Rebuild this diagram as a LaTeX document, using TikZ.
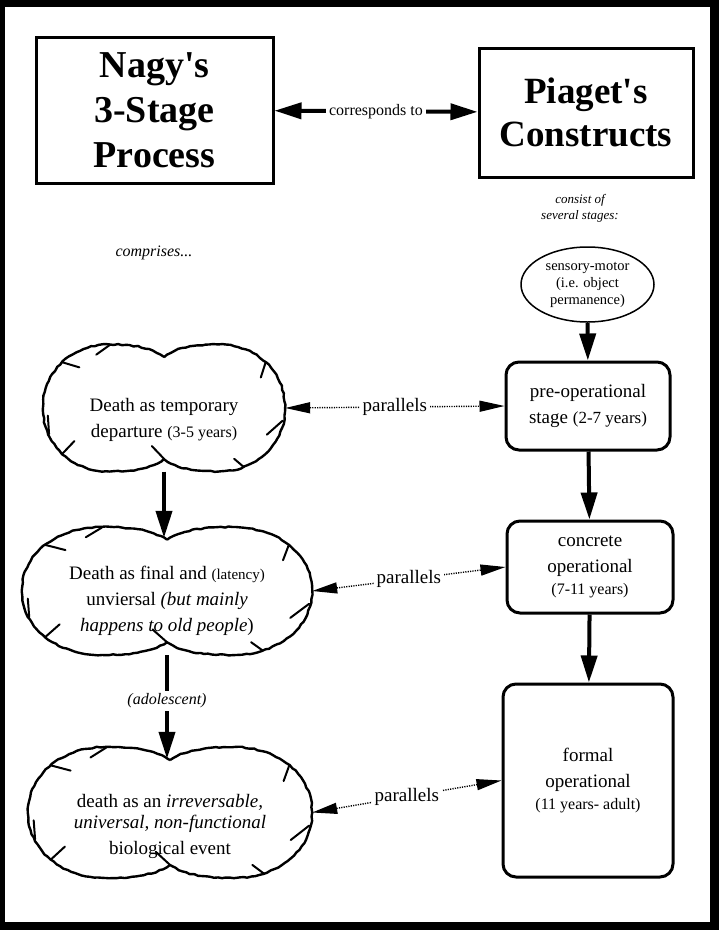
\documentclass[tikz,border=0pt]{standalone}
\usepackage{fontspec}
\setmainfont{Liberation Serif}
\usetikzlibrary{shapes.geometric, arrows.meta, decorations.pathmorphing}

% outline of a cloud round node #1, half width #2, half height #3
\newcommand\drawcloud[3]{%
  \draw[cloud line, shift={(#1.center)}]
    (0,{-0.8*#3}) .. controls ({0.1*#2},{-0.95*#3}) and ({0.25*#2},{-#3}) .. ({0.45*#2},{-#3})
    .. controls ({0.75*#2},{-#3}) and ({#2},{-0.6*#3}) .. ({#2},0)
    .. controls ({#2},{0.6*#3}) and ({0.75*#2},{#3}) .. ({0.45*#2},{#3})
    .. controls ({0.25*#2},{#3}) and ({0.1*#2},{0.95*#3}) .. (0,{0.8*#3})
    .. controls ({-0.1*#2},{0.95*#3}) and ({-0.25*#2},{#3}) .. ({-0.45*#2},{#3})
    .. controls ({-0.75*#2},{#3}) and ({-#2},{0.6*#3}) .. ({-#2},0)
    .. controls ({-#2},{-0.6*#3}) and ({-0.75*#2},{-#3}) .. ({-0.45*#2},{-#3})
    .. controls ({-0.25*#2},{-#3}) and ({-0.1*#2},{-0.95*#3}) .. (0,{-0.8*#3}) -- cycle;
  % the little pen strokes hanging on the outline
  \draw[cloud tick, shift={(#1.center)}]
    ({-0.84*#2},{-0.72*#3}) -- ({-0.7*#2},{-0.64*#3})
    ({-0.45*#2},{-0.99*#3}) -- ({-0.56*#2},{-0.84*#3})
    ({-0.95*#2},{0.41*#3}) -- ({-0.96*#2},{0.12*#3})
    ({-0.84*#2},{0.72*#3}) -- ({-0.74*#2},{0.52*#3})
    (0,{0.8*#3}) -- ({-0.1*#2},{0.6*#3})
    ({0.84*#2},{-0.72*#3}) -- ({0.8*#2},{-0.48*#3})
    ({0.98*#2},{0.2*#3}) -- ({0.85*#2},{0.42*#3})
    ({0.66*#2},{0.93*#3}) -- ({0.58*#2},{0.8*#3});}

\begin{document}
\begin{tikzpicture}[x=1pt, y=-1pt]
        % Setup the styles for the boxes and the links
        \tikzset{title box/.style={draw, rectangle,
                                   line width=3pt,
                                   align=center,
                                   font=\fontsize{38}{45}\selectfont\bfseries},
                 stage box/.style={draw, rectangle,
                                   rounded corners=13pt,
                                   line width=3pt,
                                   align=center,
                                   font=\fontsize{19}{26}\selectfont},
                 cloud box/.style={ellipse, inner sep=0pt},
                 cloud text/.style={align=center, font=\fontsize{19}{26}\selectfont},
                 cloud line/.style={line width=2.4pt,
                                    line join=round,
                                    decorate,
                                    decoration={random steps, segment length=4pt, amplitude=0.6pt}},
                 cloud tick/.style={line width=2pt, line cap=round},
                 link/.style={line width=4pt,
                              >={Triangle[length=27pt, width=16pt]}},
                 parallel link/.style={line width=1.4pt,
                                       dash pattern=on 1.2pt off 1.2pt,
                                       >={Triangle[length=25pt, width=11pt]}},
                 link label/.style={fill=white, inner sep=3pt}}
        \pgfmathsetseed{7}

        % Draw the frame
        \fill (0, 0) rectangle (719, 930);
        \fill[white] (5, 7) rectangle (710, 922);
        \useasboundingbox (0, 0) rectangle (719, 930);

        % Draw the two headings
        \node[title box, minimum width=237pt, minimum height=146pt] at (154.5, 110) (nagy)
            {Nagy\textquotesingle s\\3-Stage\\Process};
        \node[title box, minimum width=214pt, minimum height=129pt,
              font=\fontsize{37}{43}\selectfont\bfseries] at (586, 112.5) (piaget)
            {Piaget\textquotesingle s\\Constructs};
        \node[font=\fontsize{13}{16}\selectfont\itshape, align=center] at (580, 208) (consist)
            {consist of\\several stages:};
        \node[font=\fontsize{16}{19}\selectfont\itshape] at (154, 253) (comprises) {comprises...};

        % Draw Piaget's stages
        \node[draw, ellipse, line width=1.5pt, minimum width=133pt, minimum height=75pt,
              inner sep=0pt, align=center, font=\fontsize{14.5}{17}\selectfont]
              at (587.5, 284.5) (sensory) {sensory-motor\\(i.e. object\\permanence)};
        \node[stage box, minimum width=164pt, minimum height=88pt] at (588, 406) (preop)
            {pre-operational\\stage {\fontsize{17}{26}\selectfont(2-7 years)}};
        \node[stage box, minimum width=166pt, minimum height=92pt] at (590, 567) (concrete)
            {concrete\\operational\\[-4pt]{\fontsize{16}{20}\selectfont(7-11 years)}};
        \node[stage box, minimum width=170pt, minimum height=193pt] at (588, 780.5) (formal)
            {formal\\operational\\[-4pt]{\fontsize{16}{20}\selectfont(11 years- adult)}};

        % Draw Nagy's stages
        \node[cloud box, minimum width=242pt, minimum height=127pt] at (164, 408) (temporary) {};
        \node[cloud text] at (164, 420) (temporary text)
            {Death as temporary\\departure {\fontsize{16}{26}\selectfont(3-5 years)}};
        \drawcloud{temporary}{121}{63.5}
        \node[cloud box, minimum width=290pt, minimum height=128pt] at (167, 591) (final) {};
        \node[cloud text] at (167, 600.5) (final text)
            {Death as final and {\fontsize{15}{26}\selectfont(latency)}\\unviersal \textit{(but mainly}\\\textit{happens to old people})};
        \drawcloud{final}{145}{64}
        \node[cloud box, minimum width=284pt, minimum height=131pt] at (170, 812.5) (biological) {};
        \node[cloud text] at (170, 826) (biological text)
            {death as an \textit{irreversable,}\\[-5pt]\textit{universal, non-functional}\\biological event};
        \drawcloud{biological}{142}{65.5}

        % Connect the nodes with arrows
        \draw[link, <->] (nagy) -- node[link label, font=\fontsize{16}{19}\selectfont] {corresponds to} (piaget);
        \draw[link, ->] (sensory) -- (preop);
        \draw[link, ->] (preop) -- (concrete);
        \draw[link, ->] (concrete) -- (formal);
        \draw[link, ->, shorten >=-11pt] (temporary.south) -- (temporary.south |- final.north);
        \draw[link, ->, shorten >=-12pt] (final.south) -- node[link label, font=\fontsize{16}{19}\selectfont\itshape] {(adolescent)} (final.south |- biological.north);
        \draw[parallel link, <->] (temporary.east) -- node[link label, font=\fontsize{19}{22}\selectfont] {parallels} (preop.west);
        \draw[parallel link, <->] (final.east) -- node[link label, font=\fontsize{19}{22}\selectfont] {parallels} (concrete.west);
        \draw[parallel link, <->] (biological.east) -- node[link label, font=\fontsize{19}{22}\selectfont] {parallels} (formal.west);
\end{tikzpicture}
\end{document}
